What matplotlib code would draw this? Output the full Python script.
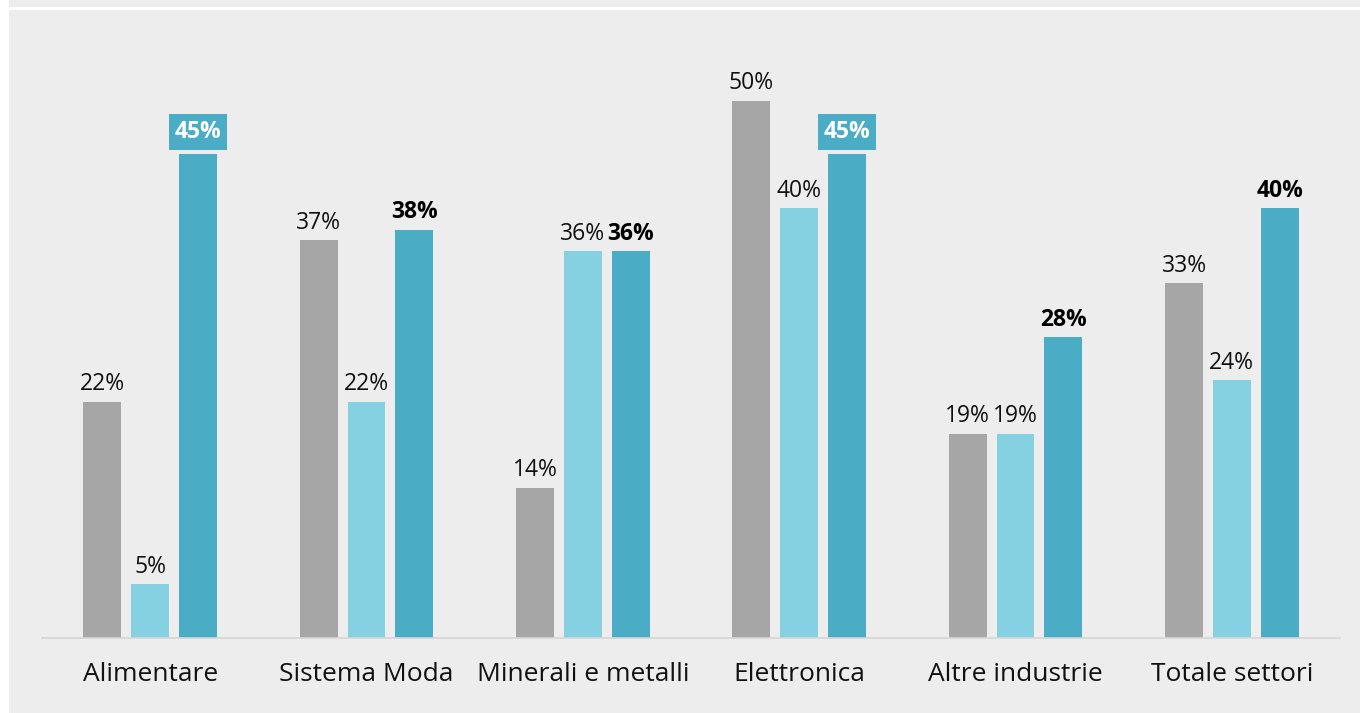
import matplotlib
matplotlib.use("Agg")
import matplotlib.pyplot as plt
import numpy as np

categories = ["Alimentare", "Sistema Moda", "Minerali e metalli", "Elettronica", "Altre industrie", "Totale settori"]
series_a = [22, 37, 14, 50, 19, 33]
series_b = [5, 22, 36, 40, 19, 24]
series_c = [45, 38, 36, 45, 28, 40]
highlight = [True, False, False, True, False, False]

colors = ["#A6A6A6", "#86D1E1", "#4BACC6"]
bg = "#EDEDED"
font = ["Open Sans", "DejaVu Sans"]

W, H = 1360, 713
fig = plt.figure(figsize=(W / 100, H / 100), dpi=100, facecolor="white")
# grey panel background
fig.patches.append(plt.Rectangle((9 / W, 0), 1 - 9 / W, (H - 10) / H, transform=fig.transFigure,
                                 facecolor=bg, edgecolor="none", zorder=-10))
fig.patches.append(plt.Rectangle((9 / W, (H - 7) / H), 1 - 9 / W, 7 / H, transform=fig.transFigure,
                                 facecolor=bg, edgecolor="none", zorder=-10))

ax = fig.add_axes([42 / W, (H - 638) / H, (1340 - 42) / W, (638 - 47) / H])
ax.set_facecolor("none")
x = np.arange(len(categories))
bw = 0.175
off = 0.221
ax.bar(x - off, series_a, bw, color=colors[0])
ax.bar(x, series_b, bw, color=colors[1])
ax.bar(x + off, series_c, bw, color=colors[2])
ax.set_xlim(-0.5, 5.5)
ax.set_ylim(0, 55)

for i in range(len(categories)):
    for dx, v in ((-off, series_a[i]), (0, series_b[i])):
        ax.annotate(f"{v}%", (x[i] + dx, v), xytext=(0, 4), textcoords="offset points",
                    ha="center", va="bottom", fontsize=16.5, family=font, color="#111111")
    v = series_c[i]
    if highlight[i]:
        ax.annotate(f"{v}%", (x[i] + off, v), xytext=(0, 7.5), textcoords="offset points",
                    ha="center", va="bottom", fontsize=16.5, family=font, fontweight="bold", color="white",
                    bbox=dict(boxstyle="square,pad=0.26", facecolor=colors[2], edgecolor="none"))
    else:
        ax.annotate(f"{v}%", (x[i] + off, v), xytext=(0, 4), textcoords="offset points",
                    ha="center", va="bottom", fontsize=16.5, family=font, fontweight="bold", color="#000000")

for s in ["top", "right", "left"]:
    ax.spines[s].set_visible(False)
ax.spines["bottom"].set_color("#D6D6D6")
ax.spines["bottom"].set_linewidth(1.2)
ax.set_yticks([])
ax.set_xticks(x)
ax.set_xticklabels(categories, fontsize=19, family=font, color="#111111")
ax.tick_params(axis="x", length=0, pad=17)

fig.savefig("out.png", dpi=100, facecolor="white")
